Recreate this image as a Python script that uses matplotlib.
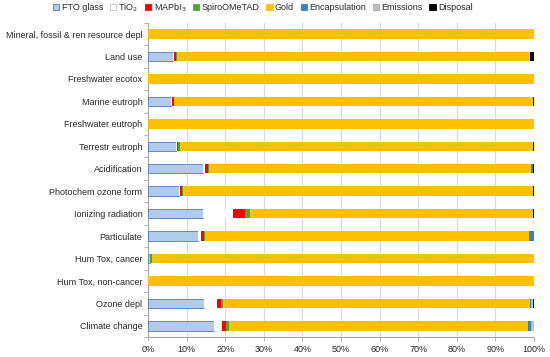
import matplotlib
matplotlib.use("Agg")
import matplotlib.pyplot as plt
import numpy as np
from matplotlib.patches import Patch

plt.rcParams['font.family'] = ['Liberation Sans', 'DejaVu Sans']

categories = ["Mineral, fossil & ren resource depl", "Land use", "Freshwater ecotox",
              "Marine eutroph", "Freshwater eutroph", "Terrestr eutroph", "Acidification",
              "Photochem ozone form", "Ionizing radiation", "Particulate", "Hum Tox, cancer",
              "Hum Tox, non-cancer", "Ozone depl", "Climate change"]

fto_glass    = [0, 6.4, 0, 6.0, 0, 7.2, 14.3, 8.0, 14.2, 13.0, 0.6, 0, 14.5, 17.1]
tio2         = [0, 0.3, 0, 0.2, 0, 0.3, 0.5, 0.3, 7.9, 0.8, 0, 0, 3.5, 2.1]
mapbi3       = [0, 0.6, 0, 0.5, 0, 0.3, 0.8, 0.4, 3.0, 0.7, 0, 0, 1.0, 1.0]
spiroometad  = [0, 0.1, 0, 0.1, 0, 0.4, 0.2, 0.3, 1.3, 0.3, 0.4, 0, 0.5, 0.8]
gold         = [100, 91.5, 100, 92.9, 100, 91.6, 83.5, 90.7, 73.0, 84.0, 98.9, 99.9, 79.5, 77.5]
encapsulation= [0, 0, 0, 0, 0, 0, 0.5, 0, 0, 1.2, 0, 0, 0.2, 0.8]
emissions    = [0, 0, 0, 0, 0, 0, 0, 0, 0.2, 0, 0, 0, 0.4, 0.6]
disposal     = [0, 1.1, 0, 0.3, 0, 0.2, 0.2, 0.3, 0.4, 0, 0.1, 0.1, 0.4, 0.1]

series_names = ["FTO glass", "TiO$_2$", "MAPbI$_3$", "SpiroOMeTAD", "Gold",
                "Encapsulation", "Emissions", "Disposal"]
series = [fto_glass, tio2, mapbi3, spiroometad, gold, encapsulation, emissions, disposal]
colors = ["#B3CBEA", "#FFFFFF", "#FF0000", "#4EA72E", "#FFC000", "#2E86C1", "#BFBFBF", "#000000"]
edges = ["#4A7EBB", "#BFBFBF", "#FF0000", "#4EA72E", "#FFC000", "#2E86C1", "#A6A6A6", "#000000"]

fig = plt.figure(figsize=(5.5, 3.57), dpi=100)
ax = fig.add_axes([0.269, 0.056, 0.702, 0.880])

y = np.arange(len(categories))
left = np.zeros(len(categories))
for name, vals, c, ec in zip(series_names, series, colors, edges):
    vals = np.array(vals, dtype=float)
    lw = 0.6 if name == "FTO glass" else 0
    ax.barh(y, vals, left=left, height=0.42, color=c, edgecolor=ec,
            linewidth=lw, label=name, zorder=3)
    left += vals

ax.set_ylim(len(categories) - 0.5, -0.5)
ax.set_xlim(0, 100)
ax.set_xticks(np.arange(0, 101, 10))
ax.set_xticklabels([f"{v}%" for v in range(0, 101, 10)], fontsize=6.5, color="#262626")
ax.set_yticks(y)
ax.set_yticklabels(categories, fontsize=6.5, color="#262626")
ax.set_yticks(np.arange(-0.5, len(categories), 1), minor=True)
ax.tick_params(axis='y', which='major', length=0, pad=4)
ax.tick_params(axis='y', which='minor', length=3, color="#A6A6A6", width=0.6)
ax.tick_params(axis='x', length=3, color="#A6A6A6", width=0.6, pad=3)
ax.grid(axis='x', color="#D9D9D9", linewidth=0.8, zorder=0)
for s in ("top", "right"):
    ax.spines[s].set_visible(False)
for s in ("left", "bottom"):
    ax.spines[s].set_color("#A6A6A6")
    ax.spines[s].set_linewidth(0.8)

legend_handles = [Patch(facecolor=c, edgecolor=ec, linewidth=0.6) for c, ec in zip(colors, edges)]
fig.legend(legend_handles, series_names, loc="upper center", bbox_to_anchor=(0.478, 1.012),
           ncol=8, fontsize=6.5, frameon=False, handlelength=0.7, handleheight=0.7,
           handletextpad=0.25, columnspacing=0.75, borderaxespad=0.2, labelcolor="#262626")

fig.savefig("out.png", dpi=100)
